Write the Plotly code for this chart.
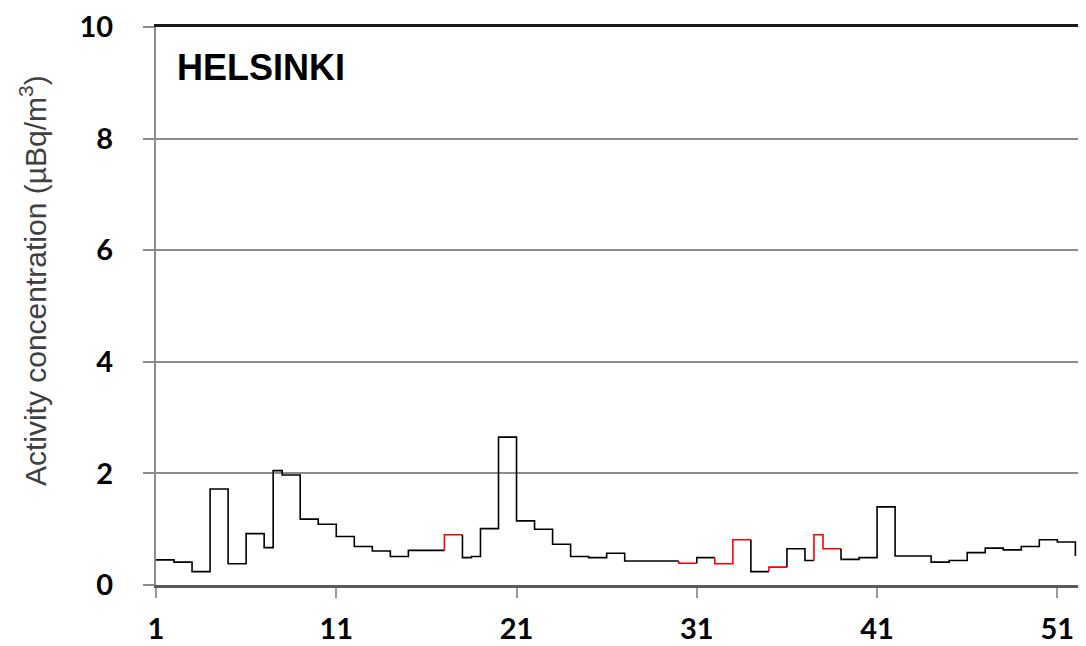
import plotly.graph_objects as go

# Sample start (week number) and activity concentration (µBq/m3)
week_start = [1, 2, 3, 4, 5, 6, 7, 7.5, 8, 9, 10, 11, 12, 13, 14, 15, 16, 17, 18, 18.5,
              19, 20, 21, 22, 23, 24, 25, 26, 27, 28, 29, 30, 31, 32, 33, 34, 35, 36, 37, 37.5,
              38, 39, 40, 41, 42, 43, 44, 45, 46, 47, 48, 49, 50, 51, 52]
activity = [0.45, 0.41, 0.24, 1.72, 0.38, 0.92, 0.67, 2.05, 1.97, 1.18, 1.09, 0.87, 0.69, 0.61, 0.51, 0.62, 0.62, 0.90, 0.49, 0.51,
            1.01, 2.65, 1.15, 1.00, 0.73, 0.51, 0.49, 0.57, 0.43, 0.43, 0.43, 0.39, 0.49, 0.38, 0.81, 0.24, 0.32, 0.65, 0.44, 0.90,
            0.65, 0.46, 0.49, 1.40, 0.52, 0.52, 0.41, 0.44, 0.58, 0.66, 0.63, 0.69, 0.81, 0.77, 0.52]
# 1 = value flagged (drawn in red)
flagged = [0, 0, 0, 0, 0, 0, 0, 0, 0, 0, 0, 0, 0, 0, 0, 0, 0, 1, 0, 0,
           0, 0, 0, 0, 0, 0, 0, 0, 0, 0, 0, 1, 0, 1, 1, 0, 1, 0, 0, 1,
           1, 0, 0, 0, 0, 0, 0, 0, 0, 0, 0, 0, 0, 0, 0]

x_ticks = [1, 11, 21, 31, 41, 51]
y_ticks = [0, 2, 4, 6, 8, 10]
station = "HELSINKI"
y_title = "Activity concentration (µBq/m<sup>3</sup>)"

fig = go.Figure()

# group consecutive runs with the same flag and draw each as its own step trace
n = len(week_start)
runs = []
a = 0
for i in range(1, n + 1):
    if i == n or flagged[i] != flagged[a]:
        runs.append((a, i - 1))
        a = i
for a, b in runs:
    xs, ys = [], []
    if a > 0:
        xs.append(week_start[a]); ys.append(activity[a - 1])
    for i in range(a, b + 1):
        xs.append(week_start[i]); ys.append(activity[i])
    if b + 1 < n:
        xs.append(week_start[b + 1]); ys.append(activity[b])
    fig.add_trace(go.Scatter(
        x=xs, y=ys, mode="lines", line_shape="hv",
        line=dict(color="#ff0000" if flagged[a] else "#000000", width=1.6),
        showlegend=False, hoverinfo="skip"))

# page body has an 8px margin, so the figure is shrunk by that amount
fig.update_layout(
    width=1078, height=638,
    margin=dict(l=148, r=0, t=17, b=61),
    paper_bgcolor="white", plot_bgcolor="white",
    font=dict(family="Lato", color="black"),
    xaxis2=dict(overlaying="x", matches="x", side="top", showline=True,
                linecolor="#1a1a1a", linewidth=3, showgrid=False, zeroline=False,
                showticklabels=False, ticks=""),
)
fig.layout.xaxis.update(range=[1, 52.59], tickvals=x_ticks, ticktext=[str(v) for v in x_ticks],
                        showgrid=False, zeroline=False, showline=True, linecolor="#5a5a5a", linewidth=3,
                        ticks="outside", ticklen=10, tickwidth=2, tickcolor="#9a9a9a",
                        tickfont=dict(family="Lato", size=29, color="black", weight="bold"),
                        ticklabelstandoff=6, ticklabeloverflow="allow")
fig.update_yaxes(
    range=[0, 10], tickvals=y_ticks, ticktext=[str(v) for v in y_ticks],
    showgrid=True, gridcolor="#8c8c8c", gridwidth=2, zeroline=False,
    showline=True, linecolor="#8c8c8c", linewidth=2,
    ticks="outside", ticklen=11, tickwidth=2, tickcolor="#8c8c8c",
    tickfont=dict(family="Lato", size=29, color="black", weight="bold"),
    ticklabelstandoff=24, ticklabeloverflow="allow",
)

# invisible helper trace so the top border axis is drawn
fig.add_trace(go.Scatter(x=[week_start[0]], y=[activity[0]], xaxis="x2", mode="lines",
                         line=dict(width=0), showlegend=False, hoverinfo="skip"))

fig.add_annotation(text=station, xref="paper", yref="paper",
                   x=(175 - 156) / 930, y=(585 - 66) / 560, xanchor="left", yanchor="middle",
                   showarrow=False,
                   font=dict(family="Liberation Sans", size=36, color="black", weight="bold"))
fig.add_annotation(text=y_title, xref="paper", yref="paper",
                   x=(33 - 156) / 930, y=(585 - 280) / 560, xanchor="center", yanchor="middle",
                   textangle=-90, showarrow=False,
                   font=dict(family="Liberation Sans", size=30, color="#404040"))

fig.write_html("out.html")
